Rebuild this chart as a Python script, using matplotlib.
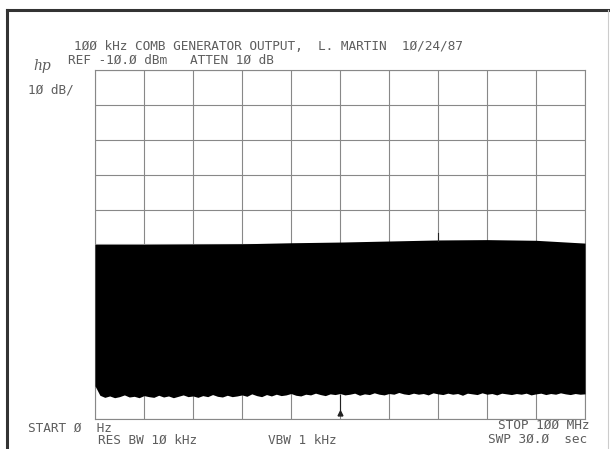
import numpy as np
import matplotlib
matplotlib.use("Agg")
import matplotlib.pyplot as plt
from matplotlib.lines import Line2D

W, H = 610, 449

# comb envelope (top of the lines), dBm every 10 MHz
env_freq = [0, 10, 20, 30, 40, 50, 60, 70, 80, 90, 100]
env_top = [-60.0, -60.0, -59.9, -59.8, -59.5, -59.3, -59.0, -58.7, -58.6, -58.8, -59.6]

# noise floor under the comb, dBm every 1 MHz
floor_freq = list(range(0, 101))
floor_dbm = [
    -100.5, -103.2, -103.8, -103.4, -103.9, -103.6, -103.1, -103.7, -103.5, -103.9,
    -103.3, -103.6, -103.8, -103.2, -103.7, -103.4, -103.9, -103.5, -103.1, -103.6,
    -103.4, -103.8, -103.3, -103.6, -103.0, -103.5, -103.7, -103.2, -103.6, -103.4,
    -103.1, -103.5, -102.8, -103.3, -103.6, -103.0, -103.4, -102.9, -103.3, -103.1,
    -102.7, -103.2, -103.4, -102.9, -103.1, -102.6, -103.0, -103.3, -102.8, -103.0,
    -102.7, -103.1, -102.9, -102.6, -103.2, -102.8, -103.0, -102.5, -102.9, -103.1,
    -102.7, -102.9, -102.4, -102.8, -103.0, -102.6, -102.9, -102.7, -103.1, -102.5,
    -102.8, -103.0, -102.6, -102.9, -102.7, -103.2, -102.6, -102.8, -103.0, -102.5,
    -102.9, -102.7, -103.1, -102.6, -102.8, -103.0, -102.7, -102.9, -102.6, -103.1,
    -102.8, -102.6, -103.0, -102.7, -102.9, -102.5, -102.8, -103.0, -102.7, -102.9, -102.8,
]

marker_freq = 50.0
marker_low = -108.3
spur_freq = 70.0
spur_top = -56.6

ink = "#5e5e5e"
mono = "DejaVu Sans Mono"


def fpos(x, y):
    return x / W, 1 - y / H


fig = plt.figure(figsize=(W / 100, H / 100), dpi=100)
ax = fig.add_axes([95 / W, 1 - 419 / H, 490 / W, 349 / H])

top = np.interp(floor_freq, env_freq, env_top)
ax.fill_between(floor_freq, floor_dbm, top, color="black", lw=0, zorder=3)
ax.plot([marker_freq, marker_freq], [marker_low, -103], color="#222", lw=0.8, zorder=3)
ax.plot([marker_freq], [marker_low], marker="^", ms=3.5, color="#222", zorder=4)
ax.plot([spur_freq, spur_freq], [spur_top, -59], color="#222", lw=0.8, zorder=3)

ax.set_xlim(0, 100)
ax.set_ylim(-110, -10)
ax.set_xticks(range(0, 101, 10))
ax.set_yticks(range(-110, -9, 10))
ax.grid(True, color="#888", lw=0.8)
ax.tick_params(length=0, labelbottom=False, labelleft=False)
for s in ax.spines.values():
    s.set_color("#888")
    s.set_linewidth(0.8)

# page frame
fig.add_artist(Line2D([7 / W, 7 / W], [0, 1 - 10 / H], color="#333", lw=2.2))
fig.add_artist(Line2D([7 / W, 1], [1 - 10 / H, 1 - 10 / H], color="#333", lw=2.2))
fig.add_artist(Line2D([608 / W, 608 / W], [0, 1 - 10 / H], color="#ccc", lw=0.8))

kw = dict(family=mono, fontsize=9.2, color=ink, va="center", ha="left")
fig.text(*fpos(74, 46), "1ØØ kHz COMB GENERATOR OUTPUT,  L. MARTIN  1Ø/24/87", **kw)
fig.text(*fpos(68, 60), "REF -1Ø.Ø dBm   ATTEN 1Ø dB", **kw)
fig.text(*fpos(28, 90), "1Ø dB/", **kw)
fig.text(*fpos(28, 428), "START Ø  Hz", **kw)
fig.text(*fpos(98, 440), "RES BW 1Ø kHz", **kw)
fig.text(*fpos(268, 440), "VBW 1 kHz", **kw)
fig.text(*fpos(590, 425), "STOP 1ØØ MHz", **{**kw, "ha": "right"})
fig.text(*fpos(587, 439), "SWP 3Ø.Ø  sec", **{**kw, "ha": "right"})
fig.text(*fpos(33, 66), "hp", family="DejaVu Serif", style="italic",
         fontsize=10, color=ink, va="center", ha="left")

fig.savefig("out.png", dpi=100, facecolor="white")
